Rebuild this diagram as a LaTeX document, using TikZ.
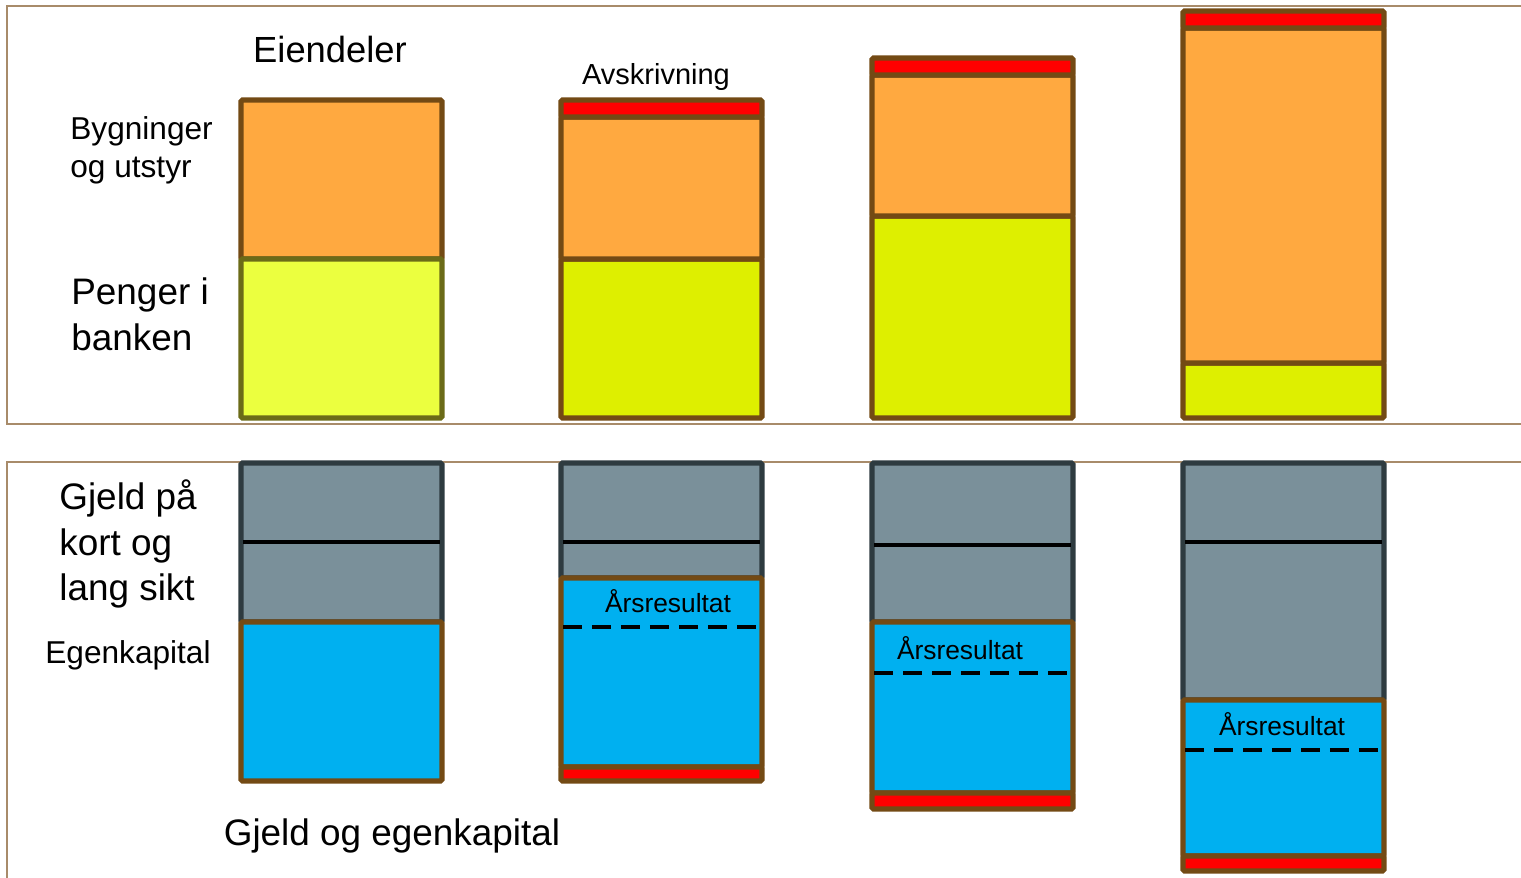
\documentclass[tikz,border=0pt]{standalone}
\usepackage{fontspec}
\setmainfont{Liberation Sans}
\definecolor{orng}{HTML}{FFA940}
\definecolor{paleyel}{HTML}{EBFF3F}
\definecolor{yel}{HTML}{DEEF00}
\definecolor{olive}{HTML}{6B6B18}
\definecolor{brwn}{HTML}{734A14}
\definecolor{blu}{HTML}{00B0F0}
\definecolor{gry}{HTML}{7A909A}
\definecolor{slate}{HTML}{2E3B40}
\definecolor{framecol}{HTML}{A88B6A}
\definecolor{loss}{HTML}{FF0000}

\begin{document}
\begin{tikzpicture}[x=0.02cm,y=-0.02cm,
  frame line/.style={draw=framecol,line width=1pt},
  part/.style={draw=brwn,line width=2.9pt,rounded corners=0.8pt},
  debt/.style={draw=slate,line width=2.9pt,rounded corners=0.8pt,fill=gry},
  split/.style={black,line width=2.2pt},
  result/.style={black,line width=2.2pt,dash pattern=on 11pt off 5.5pt},
  big label/.style={font=\fontsize{21}{26}\selectfont,align=left,anchor=west,inner sep=0pt},
  mid label/.style={font=\fontsize{18}{21.6}\selectfont,align=left,anchor=west,inner sep=0pt},
  small label/.style={font=\fontsize{15}{18}\selectfont,inner sep=0pt}]

  \useasboundingbox (0,0) rectangle (1521,878);

  % panels
  \draw[frame line] (1521,6) -- (7,6) -- (7,424) -- (1521,424);
  \draw[frame line] (1521,462) -- (7,462) -- (7,878);

  % eiendeler, start
  \draw[part,fill=orng] (241,100) rectangle (442,259);
  \draw[part,draw=olive,fill=paleyel] (241,259) rectangle (442,418);
  % etter avskrivning
  \draw[part,fill=yel] (561,259) rectangle (762,418);
  \draw[part,fill=orng] (561,117) rectangle (762,259);
  \draw[part,fill=loss] (561,100) rectangle (762,117);
  \draw[part,fill=yel] (872,216) rectangle (1073,418);
  \draw[part,fill=orng] (872,75) rectangle (1073,216);
  \draw[part,fill=loss] (872,58) rectangle (1073,75);
  \draw[part,fill=yel] (1183,363) rectangle (1384,418);
  \draw[part,fill=orng] (1183,28) rectangle (1384,363);
  \draw[part,fill=loss] (1183,11) rectangle (1384,28);

  % gjeld og egenkapital
  \draw[debt] (241,463) rectangle (442,622);
  \draw[split] (243,542) -- (440,542);
  \draw[part,fill=blu] (241,622) rectangle (442,781);

  \draw[debt] (561,463) rectangle (762,578);
  \draw[split] (563,542) -- (760,542);
  \draw[part,fill=blu] (561,578) rectangle (762,767);
  \draw[part,fill=loss] (561,767) rectangle (762,781);
  \draw[result] (563,627) -- (762,627);

  \draw[debt] (872,463) rectangle (1073,622);
  \draw[split] (874,545) -- (1071,545);
  \draw[part,fill=blu] (872,622) rectangle (1073,793);
  \draw[part,fill=loss] (872,793) rectangle (1073,809);
  \draw[result] (874,673) -- (1073,673);

  \draw[debt] (1183,463) rectangle (1384,700);
  \draw[split] (1185,542) -- (1382,542);
  \draw[part,fill=blu] (1183,700) rectangle (1384,856);
  \draw[part,fill=loss] (1183,856) rectangle (1384,871);
  \draw[result] (1185,750) -- (1384,750);

  % tekster
  \node[font=\fontsize{20.7}{24}\selectfont,inner sep=0pt] (eiendeler) at (330,50) {Eiendeler};
  \node[font=\fontsize{16.5}{19}\selectfont,inner sep=0pt] (avskr) at (656,77) {Avskrivning};
  \node[mid label] (bygg) at (70,150) {Bygninger\\og utstyr};
  \node[big label] (bank) at (71,314) {Penger i\\banken};
  \node[big label] (gjeld) at (59,544) {Gjeld på\\kort og\\lang sikt};
  \node[mid label] (ek) at (45,655) {Egenkapital};
  \node[small label] (res2) at (668,601) {Årsresultat};
  \node[small label] (res3) at (960,648) {Årsresultat};
  \node[small label] (res4) at (1282,724) {Årsresultat};
  \node[font=\fontsize{21}{25}\selectfont,inner sep=0pt] (gek) at (392,836) {Gjeld og egenkapital};
\end{tikzpicture}
\end{document}
